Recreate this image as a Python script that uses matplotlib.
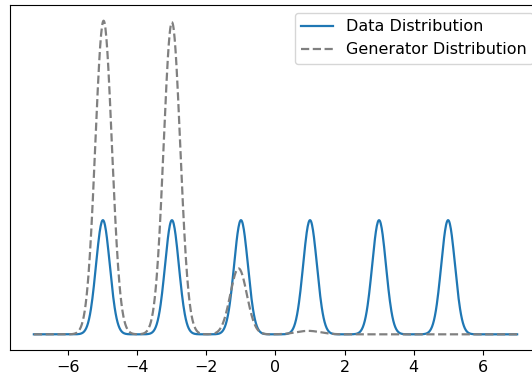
import numpy as np
import matplotlib
matplotlib.use("Agg")
import matplotlib.pyplot as plt

# Data distribution: six equal modes
data_centers = [-5, -3, -1, 1, 3, 5]
data_heights = [0.364, 0.364, 0.364, 0.364, 0.364, 0.364]
data_widths = [0.2, 0.2, 0.2, 0.2, 0.2, 0.2]

# Generator distribution: modes
gen_centers = [-4.98, -3.0, -1.07, 0.95]
gen_heights = [1.0, 0.995, 0.21, 0.011]
gen_widths = [0.24, 0.24, 0.24, 0.35]

x_range = (-7, 7)
xticks = [-6, -4, -2, 0, 2, 4, 6]


def mixture(x, centers, heights, widths):
    y = np.zeros_like(x)
    for c, h, w in zip(centers, heights, widths):
        y += h * np.exp(-0.5 * ((x - c) / w) ** 2)
    return y


x = np.linspace(x_range[0], x_range[1], 1000)
y_data = mixture(x, data_centers, data_heights, data_widths)
y_gen = mixture(x, gen_centers, gen_heights, gen_widths)

W, H = 532, 377
fig = plt.figure(figsize=(W / 100, H / 100), dpi=100)
ax = fig.add_axes([9.7 / W, (H - 350) / H, 531.6 / W, 345 / H])
ax.plot(x, y_data, color="#1f77b4", lw=1.6, label="Data Distribution")
ax.plot(x, y_gen, color="gray", lw=1.6, ls="--", label="Generator Distribution")
ax.set_yticks([])
ax.set_xticks(xticks)
ax.set_xticklabels([("\u2212" + str(-t)) if t < 0 else str(t) for t in xticks])
ax.tick_params(axis="x", labelsize=11.5)
ax.legend(loc="upper right", fontsize=11.5)
fig.savefig("out.png", dpi=100)
